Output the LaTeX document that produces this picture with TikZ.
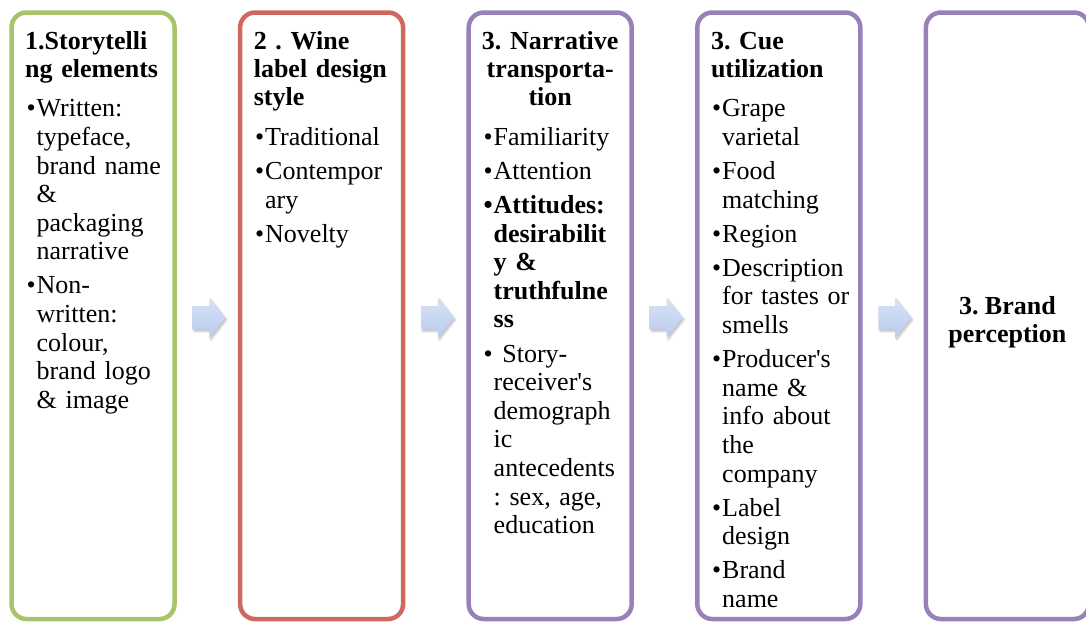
\documentclass[tikz,border=0pt]{standalone}
\usepackage{fontspec}
\setmainfont{Liberation Serif}
\usepackage{tikz}
\usetikzlibrary{positioning,calc,shapes.arrows,shadows.blur}
\definecolor{Olive}{HTML}{A8C46A}
\definecolor{Brick}{HTML}{CF6860}
\definecolor{Lilac}{HTML}{9A80B9}
\definecolor{ArrowTop}{HTML}{D6E2F7}
\definecolor{ArrowBot}{HTML}{BACCEC}
\newcommand{\litem}{\par\hangindent=10pt\hangafter=1\noindent\hbox to 10pt{\strut\textbullet\hfil}}
\newcommand{\nl}{\hfil\break}
\tikzset{
  stagebox/.style={rectangle, rounded corners=15pt, line width=4.5pt, fill=white, minimum width=163pt, minimum height=606.5pt, inner sep=0pt},
  headtext/.style={font=\bfseries\fontsize{26}{28}\selectfont\frenchspacing, text width=150pt, align=left, inner sep=0pt, anchor=north west},
  listtext/.style={font=\fontsize{26}{28.6}\selectfont\frenchspacing\raggedright\setlength{\parskip}{5.5pt}, text width=150pt, inner sep=0pt, anchor=north west},
  blockarrow/.style={single arrow, draw=none, top color=ArrowTop, bottom color=ArrowBot, minimum height=33pt, minimum width=0pt, inner xsep=0pt, inner ysep=11.5pt, single arrow head extend=8.5pt, single arrow tip angle=103, blur shadow={shadow xshift=1.5pt, shadow yshift=-2pt, shadow blur steps=6, shadow opacity=25}},
}

\begin{document}
\begin{tikzpicture}[x=1pt,y=-1pt]
\path[use as bounding box] (0,0) rectangle (1086,622);

% five stage panels
\foreach \i/\x/\c in {1/11.5/Olive,2/240.1/Brick,3/468.7/Lilac,4/697.3/Lilac,5/925.9/Lilac}{
  \node[stagebox,draw=\c] (box\i) at (\x+81.5,315.75) {};
}

% block arrows between panels
\foreach \i/\j in {1/2,2/3,3/4,4/5}{
  \node[blockarrow] (arr\i) at ($(box\i.east)!0.5!(box\j.west)+(-3,2)$) {};
}

% headings
\node[headtext] (hd1) at (25,29.4) {\strut 1.Storytelli\\ng elements};
\node[headtext] (hd2) at (253.6,29.4) {\strut 2 . Wine\\label design\\style};
\node[headtext,align=center,anchor=north] (hd3) at (550.2,29.4) {\strut 3. Narrative\\transporta-\\tion};
\node[headtext] (hd4) at (710.8,29.4) {\strut 3. Cue\\utilization};
\node[headtext,text width=,align=center,anchor=north] (hd5) at (1007.4,294.4) {\strut 3. Brand\\perception};

% bullet lists
\node[listtext] (ls1) at (26.5,82.5) {%
  \litem Written:\nl typeface,\nl brand name\nl \&\nl packaging\nl narrative
  \litem Non-\nl written:\nl colour,\nl brand logo\nl \& image\par};
\node[listtext] (ls2) at (255,111) {%
  \litem Traditional
  \litem Contempor\nl ary
  \litem Novelty\par};
\node[listtext] (ls3) at (483.5,111) {%
  \litem Familiarity
  \litem Attention
  {\bfseries\litem Attitudes:\nl desirabilit\nl y \&\nl truthfulne\nl ss\par}
  \litem\ Story-\nl receiver\textquotesingle s\nl demograph\nl ic\nl antecedents\nl : sex, age,\nl education\par};
\node[listtext] (ls4) at (712,82.5) {%
  \litem Grape\nl varietal
  \litem Food\nl matching
  \litem Region
  \litem Description\nl for tastes or\nl smells
  \litem Producer\textquotesingle s\nl name \&\nl info about\nl the\nl company
  \litem Label\nl design
  \litem Brand\nl name\par};
\end{tikzpicture}
\end{document}
